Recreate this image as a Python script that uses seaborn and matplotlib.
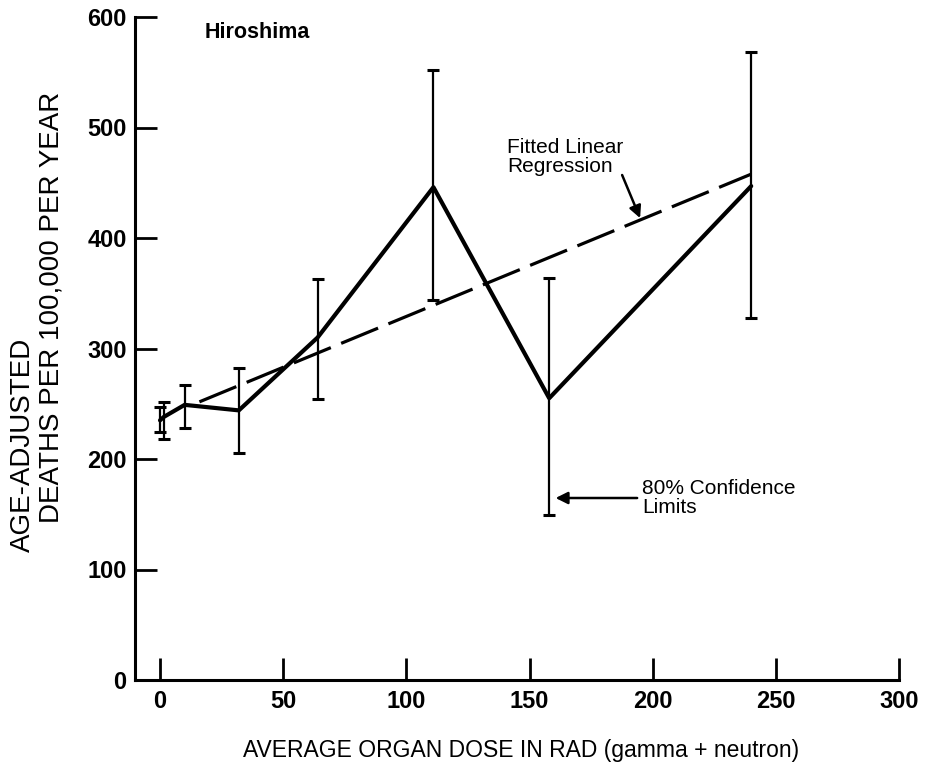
import numpy as np
import pandas as pd
import matplotlib
matplotlib.use("Agg")
import matplotlib.pyplot as plt
import seaborn as sns

# Hiroshima dose groups: mean organ dose (rad) and age-adjusted death rate
dose = [0, 1.5, 10, 32, 64, 111, 158, 240]
rate = [235, 238, 249, 244, 310, 446, 255, 447]
ci_low = [224, 218, 228, 205, 254, 344, 149, 328]
ci_high = [247, 252, 267, 282, 363, 552, 364, 568]

# Fitted linear regression
reg_intercept = 237.0
reg_slope = 0.92
reg_range = [16, 240]

x_ticks = [0, 50, 100, 150, 200, 250, 300]
y_ticks = [0, 100, 200, 300, 400, 500, 600]

sns.set_style("ticks")
plt.rcParams["font.family"] = ["Liberation Sans", "DejaVu Sans"]
plt.rcParams.update({
    "text.color": "black",
    "axes.edgecolor": "black",
    "axes.labelcolor": "black",
    "xtick.color": "black",
    "ytick.color": "black",
})

fig = plt.figure(figsize=(9.53, 7.68), dpi=100)
W, H = 953, 768
ax = fig.add_axes([135 / W, 88 / H, (899 - 135) / W, (680 - 17) / H])

df = pd.DataFrame({"dose": dose, "rate": rate})
sns.lineplot(data=df, x="dose", y="rate", ax=ax, color="black",
             linewidth=3.0, sort=False, estimator=None, clip_on=False)

rate_arr = np.array(rate)
ax.errorbar(dose, rate,
            yerr=[rate_arr - np.array(ci_low), np.array(ci_high) - rate_arr],
            fmt="none", ecolor="black", elinewidth=1.6, capsize=4.6,
            capthick=2.2, clip_on=False)

reg_x = np.array(reg_range, dtype=float)
reg_df = pd.DataFrame({"dose": reg_x, "rate": reg_intercept + reg_slope * reg_x})
sns.lineplot(data=reg_df, x="dose", y="rate", ax=ax, color="black",
             linewidth=2.3)
ax.lines[-1].set_dashes((12.5, 3.5))

ax.set_xlim(-10.15, 300)
ax.set_ylim(0, 600)
ax.set_xticks(x_ticks)
ax.set_yticks(y_ticks)
ax.set_xticklabels([str(v) for v in x_ticks], fontsize=17, fontweight="bold")
ax.set_yticklabels([str(v) for v in y_ticks], fontsize=17, fontweight="bold")
ax.tick_params(axis="x", direction="in", length=16, width=2, pad=7)
ax.tick_params(axis="y", direction="in", length=16, width=2, pad=6)
for side in ("top", "right"):
    ax.spines[side].set_visible(False)
for side in ("left", "bottom"):
    ax.spines[side].set_linewidth(2.2)
ax.set_xlabel("")
ax.set_ylabel("")

ax.text(18, 586, "Hiroshima", fontsize=15.5, fontweight="bold",
        ha="left", va="center")

arrow_style = dict(arrowstyle="-|>", color="black", lw=1.8,
                   mutation_scale=18, shrinkA=0, shrinkB=0)

ax.text(141, 473, "Fitted Linear\nRegression", fontsize=15, ha="left",
        va="center", multialignment="left", linespacing=1.0)
ax.annotate("", xy=(194.9, 418), xytext=(187.6, 457), arrowprops=arrow_style)

ax.text(195.7, 165, "80% Confidence\nLimits", fontsize=15, ha="left",
        va="center", multialignment="left", linespacing=1.0)
ax.annotate("", xy=(160.6, 164.7), xytext=(193.7, 164.7),
            arrowprops=arrow_style)

fig.text(521 / W, 1 - 750 / H, "AVERAGE ORGAN DOSE IN RAD (gamma + neutron)",
         fontsize=16.5, ha="center", va="center")
fig.text(23 / W, 1 - 552 / H, "AGE-ADJUSTED", fontsize=20, rotation=90,
         ha="center", va="bottom")
fig.text(52 / W, 1 - 523 / H, "DEATHS PER 100,000 PER YEAR", fontsize=20,
         rotation=90, ha="center", va="bottom")

fig.savefig("out.png", dpi=100, facecolor="white")
